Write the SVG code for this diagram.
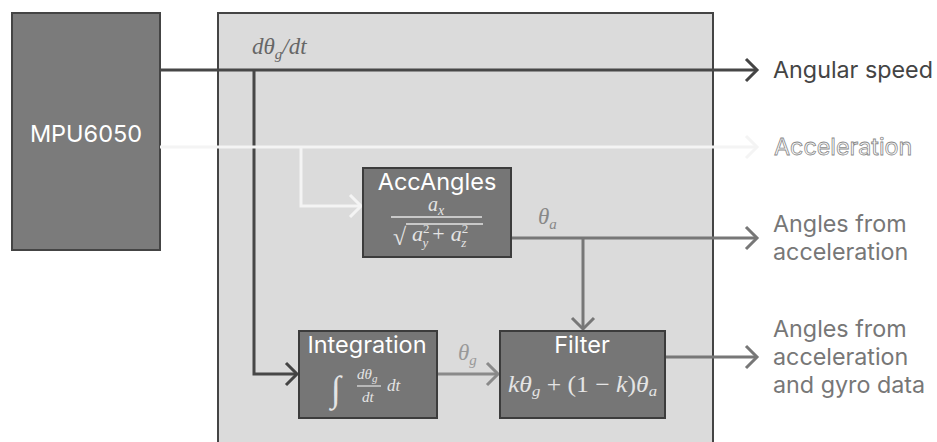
<svg xmlns="http://www.w3.org/2000/svg" width="937" height="442" viewBox="0 0 937 442">
  <style>
    .blk { fill: #767676; stroke: #3c3c3c; stroke-width: 2; }
    .title { font-family: Inter, "Liberation Sans", sans-serif; font-size: 23.5px; fill: #ffffff; text-anchor: middle; }
    .math { font-family: "Liberation Serif", "DejaVu Serif", serif; font-style: italic; fill: #e4e4e4; }
    .mathup { font-family: "Liberation Serif", "DejaVu Serif", serif; font-style: normal; fill: #e4e4e4; }
    .lbl { font-family: "Liberation Serif", "DejaVu Serif", serif; font-style: italic; }
    .out { font-family: Inter, "Liberation Sans", sans-serif; font-size: 23.3px; }
    .wire { fill: none; stroke-width: 3; }
  </style>
  <defs>
    <marker id="arDark" markerUnits="userSpaceOnUse" markerWidth="30" markerHeight="30" viewBox="-15 -15 30 30" refX="0" refY="0" orient="auto">
      <path d="M-11,-11 L0,0 L-11,11" fill="none" stroke="#444" stroke-width="3"/>
    </marker>
    <marker id="arWhite" markerUnits="userSpaceOnUse" markerWidth="30" markerHeight="30" viewBox="-15 -15 30 30" refX="0" refY="0" orient="auto">
      <path d="M-11,-11 L0,0 L-11,11" fill="none" stroke="#f4f4f4" stroke-width="3"/>
    </marker>
    <marker id="arMid" markerUnits="userSpaceOnUse" markerWidth="30" markerHeight="30" viewBox="-15 -15 30 30" refX="0" refY="0" orient="auto">
      <path d="M-11,-11 L0,0 L-11,11" fill="none" stroke="#777" stroke-width="3"/>
    </marker>
    <marker id="arLight" markerUnits="userSpaceOnUse" markerWidth="30" markerHeight="30" viewBox="-15 -15 30 30" refX="0" refY="0" orient="auto">
      <path d="M-11,-11 L0,0 L-11,11" fill="none" stroke="#8a8a8a" stroke-width="3"/>
    </marker>
  </defs>

  <rect x="0" y="0" width="937" height="442" fill="#ffffff"/>

  <g id="mpu6050">
    <rect x="12" y="13" width="148" height="237" fill="#7b7b7b" stroke="#444" stroke-width="2"/>
    <text class="title" x="86" y="142" font-size="24">MPU6050</text>
  </g>

  <g id="processor">
    <rect x="218" y="13" width="495" height="440" fill="#dbdbdb" stroke="#444" stroke-width="2"/>
  </g>

  <g id="connectors">
    <path class="wire" d="M160,70 H757" stroke="#474747" marker-end="url(#arDark)"/>
    <path class="wire" d="M254,70 V374 H297" stroke="#474747" marker-end="url(#arDark)"/>
    <path class="wire" d="M160,147 H757" stroke="#f4f4f4" marker-end="url(#arWhite)"/>
    <path class="wire" d="M301,147 V206 H361" stroke="#f4f4f4" marker-end="url(#arWhite)"/>
    <path class="wire" d="M511,238 H757" stroke="#777" marker-end="url(#arMid)"/>
    <path class="wire" d="M583,238 V329" stroke="#777" marker-end="url(#arMid)"/>
    <path class="wire" d="M437,374 H498" stroke="#8a8a8a" marker-end="url(#arLight)"/>
    <path class="wire" d="M665,357 H757" stroke="#777" marker-end="url(#arMid)"/>
    <text class="lbl" x="252" y="54" font-size="23" fill="#666">dθ<tspan font-size="15" dy="5">g</tspan><tspan dy="-5">/dt</tspan></text>
    <text class="lbl" x="538" y="224" font-size="23" fill="#888">θ<tspan font-size="15" dy="5">a</tspan></text>
    <text class="lbl" x="458" y="360" font-size="23" fill="#999">θ<tspan font-size="15" dy="5">g</tspan></text>
  </g>

  <g id="accangles">
    <rect class="blk" x="363" y="168" width="148" height="89"/>
    <text class="title" x="437" y="190">AccAngles</text>
    <text class="math" x="428" y="211" font-size="20">a<tspan font-size="14" dy="4">x</tspan></text>
    <line x1="391" y1="217" x2="482" y2="217" stroke="#e4e4e4" stroke-width="1.5"/>
    <text class="mathup" x="393" y="245" font-size="24">√</text>
    <line x1="406" y1="224" x2="483" y2="224" stroke="#e4e4e4" stroke-width="1.3"/>
    <text class="math" x="412" y="241" font-size="22">a<tspan class="mathup" font-size="13" dy="-8">2</tspan><tspan font-size="13" dx="-7" dy="14">y</tspan><tspan class="mathup" font-size="22" dx="4" dy="-6">+</tspan><tspan font-size="22" dx="6">a</tspan><tspan class="mathup" font-size="13" dy="-8">2</tspan><tspan font-size="13" dx="-7" dy="14">z</tspan></text>
  </g>

  <g id="integration">
    <rect class="blk" x="299" y="331" width="138" height="87"/>
    <text class="title" x="367" y="353">Integration</text>
    <text class="math" x="331" y="401" font-size="36">∫</text>
    <text class="math" x="357" y="379" font-size="15">dθ<tspan font-size="11" dy="3">g</tspan></text>
    <line x1="357" y1="386" x2="381" y2="386" stroke="#e4e4e4" stroke-width="1.2"/>
    <text class="math" x="362" y="402" font-size="15">dt</text>
    <text class="math" x="387" y="391" font-size="17">dt</text>
  </g>

  <g id="filter">
    <rect class="blk" x="500" y="331" width="165" height="87"/>
    <text class="title" x="582" y="353">Filter</text>
    <text class="math" x="508" y="392" font-size="23" textLength="149" lengthAdjust="spacingAndGlyphs">kθ<tspan font-size="15" dy="4">g</tspan><tspan class="mathup" dy="-4"> + (1 − </tspan>k<tspan class="mathup">)</tspan>θ<tspan font-size="15" dy="4">a</tspan></text>
  </g>

  <g id="outputs">
    <text class="out" x="773" y="78" fill="#444">Angular speed</text>
    <text class="out" x="774" y="155" fill="#ffffff" stroke="#8a8a8a" stroke-width="0.8">Acceleration</text>
    <text class="out" x="773" y="232" fill="#777">Angles from</text>
    <text class="out" x="773" y="260" fill="#777">acceleration</text>
    <text class="out" x="773" y="337" fill="#777">Angles from</text>
    <text class="out" x="773" y="365" fill="#777">acceleration</text>
    <text class="out" x="773" y="393" fill="#777">and gyro data</text>
  </g>
</svg>
